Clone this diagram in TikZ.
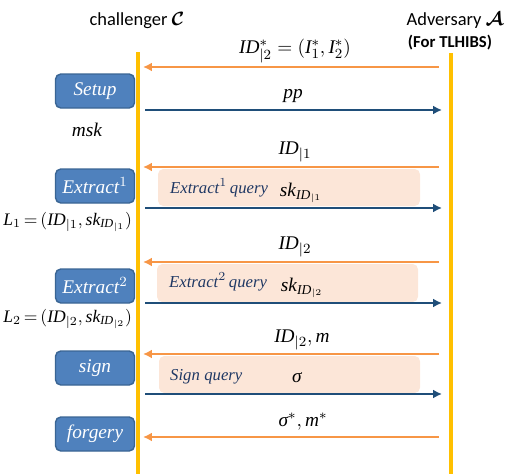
\documentclass[tikz,border=0pt]{standalone}
\usepackage{amsmath,amssymb}
\usepackage{fontspec}
\newfontfamily\calibri{Carlito}
\newfontfamily\tms{Liberation Serif}
\usepackage{tikz}
\usetikzlibrary{arrows.meta,positioning}

% italic variable names
\newcommand{\vr}[1]{\text{\tms\itshape #1}}

\definecolor{lifeyellow}{HTML}{FFC000}
\definecolor{reqorange}{HTML}{F79646}
\definecolor{repblue}{HTML}{1F4E79}
\definecolor{algfill}{HTML}{4F81BD}
\definecolor{algdraw}{HTML}{3A6594}
\definecolor{qpeach}{HTML}{FCE6D8}
\definecolor{qtext}{HTML}{1F3864}

\begin{document}
\begin{tikzpicture}[
    x=0.02cm, y=-0.02cm,
    every node/.style={font=\fontsize{11}{13}\selectfont},
    party/.style={font=\calibri\fontsize{10.5}{12}\selectfont},
    lifeline/.style={draw=lifeyellow, line width=2.8pt},
    request/.style={draw=reqorange, line width=1.5pt, -{Latex[length=5pt,width=5pt]}},
    reply/.style={draw=repblue, line width=1.3pt, -{Latex[length=5pt,width=5pt]}},
    msg/.style={inner sep=1pt},
    alg/.style={rectangle, rounded corners=3pt, draw=algdraw, fill=algfill, thick,
        minimum width=1.58cm, minimum height=0.68cm, text=white},
    qbox/.style={fill=qpeach, rounded corners=3pt},
    qlabel/.style={text=qtext, anchor=west, font=\fontsize{9.5}{11}\selectfont},
    keylist/.style={anchor=east, inner sep=1pt, font=\fontsize{10}{12}\selectfont},
]
\useasboundingbox (0,0) rectangle (514,474);

% parties
\node[party] (chal) at (137,20) {challenger $\boldsymbol{\mathcal{C}}$};
\node[party] (adv) at (455,20) {Adversary $\boldsymbol{\mathcal{A}}$};
\node[party, font=\calibri\bfseries\fontsize{9.5}{11}\selectfont] (tlhibs) at (450,43) {(For TLHIBS)};

% query areas
\fill[qbox] (158,169) rectangle (420,206);
\fill[qbox] (157,264) rectangle (418,302);
\fill[qbox] (159,356) rectangle (420,393);

% lifelines
\coordinate (ctop) at (138,52);
\coordinate (cbot) at (138,474);
\coordinate (atop) at (451,53);
\coordinate (abot) at (451,474);
\draw[lifeline] (ctop) -- (cbot);
\draw[lifeline] (atop) -- (abot);

% arrow end points
\foreach \i/\y in {1/67,3/167,5/262,7/354,9/437} {
    \coordinate (a\i) at (439,\y);
    \coordinate (c\i) at (143,\y);
}
\foreach \i/\y in {2/110,4/208,6/303,8/394} {
    \coordinate (c\i) at (145,\y);
    \coordinate (a\i) at (442,\y);
}

% messages
\draw[request] (a1) -- (c1);
\node[msg] (m1) at (295,51) {$\vr{ID}^*_{|2}=(\vr{I}_1^*,\vr{I}_2^*)$};
\draw[reply] (c2) -- (a2);
\node[msg] (m2) at (293,96) {$\vr{pp}$};
\draw[request] (a3) -- (c3);
\node[msg] (m3) at (295,152) {$\vr{ID}_{|1}$};
\draw[reply] (c4) -- (a4);
\node[msg] (m4) at (301,193) {$\vr{sk}_{\vr{ID}_{|1}}$};
\draw[request] (a5) -- (c5);
\node[msg] (m5) at (295,247) {$\vr{ID}_{|2}$};
\draw[reply] (c6) -- (a6);
\node[msg] (m6) at (302,288) {$\vr{sk}_{\vr{ID}_{|2}}$};
\draw[request] (a7) -- (c7);
\node[msg] (m7) at (302,340) {$\vr{ID}_{|2},\vr{m}$};
\draw[reply] (c8) -- (a8);
\node[msg] (m8) at (297,378) {$\vr{σ}$};
\draw[request] (a9) -- (c9);
\node[msg] (m9) at (303,422) {$\vr{σ}^*,\vr{m}^*$};

% query labels
\node[qlabel] (q1) at (164,188) {$\vr{Extract}^1\,\vr{query}$};
\node[qlabel] (q2) at (163,282) {$\vr{Extract}^2\,\vr{query}$};
\node[qlabel] (q3) at (164,377) {$\vr{Sign}\;\vr{query}$};

% algorithms of the challenger
\node[alg] (setup) at (95,91) {$\vr{Setup}$};
\node (msk) at (87,130) {$\vr{msk}$};
\node[alg] (ext1) at (95,186) {$\vr{Extract}^1$};
\node[keylist] (list1) at (134,222) {$\vr{L}_1\,{=}\,(\vr{ID}_{|1},\vr{sk}_{\vr{ID}_{|1}})$};
\node[alg] (ext2) at (95,286) {$\vr{Extract}^2$};
\node[keylist] (list2) at (134,319) {$\vr{L}_2\,{=}\,(\vr{ID}_{|2},\vr{sk}_{\vr{ID}_{|2}})$};
\node[alg] (sign) at (95,368) {$\vr{sign}$};
\node[alg] (forge) at (95,434) {$\vr{forgery}$};

\end{tikzpicture}
\end{document}
